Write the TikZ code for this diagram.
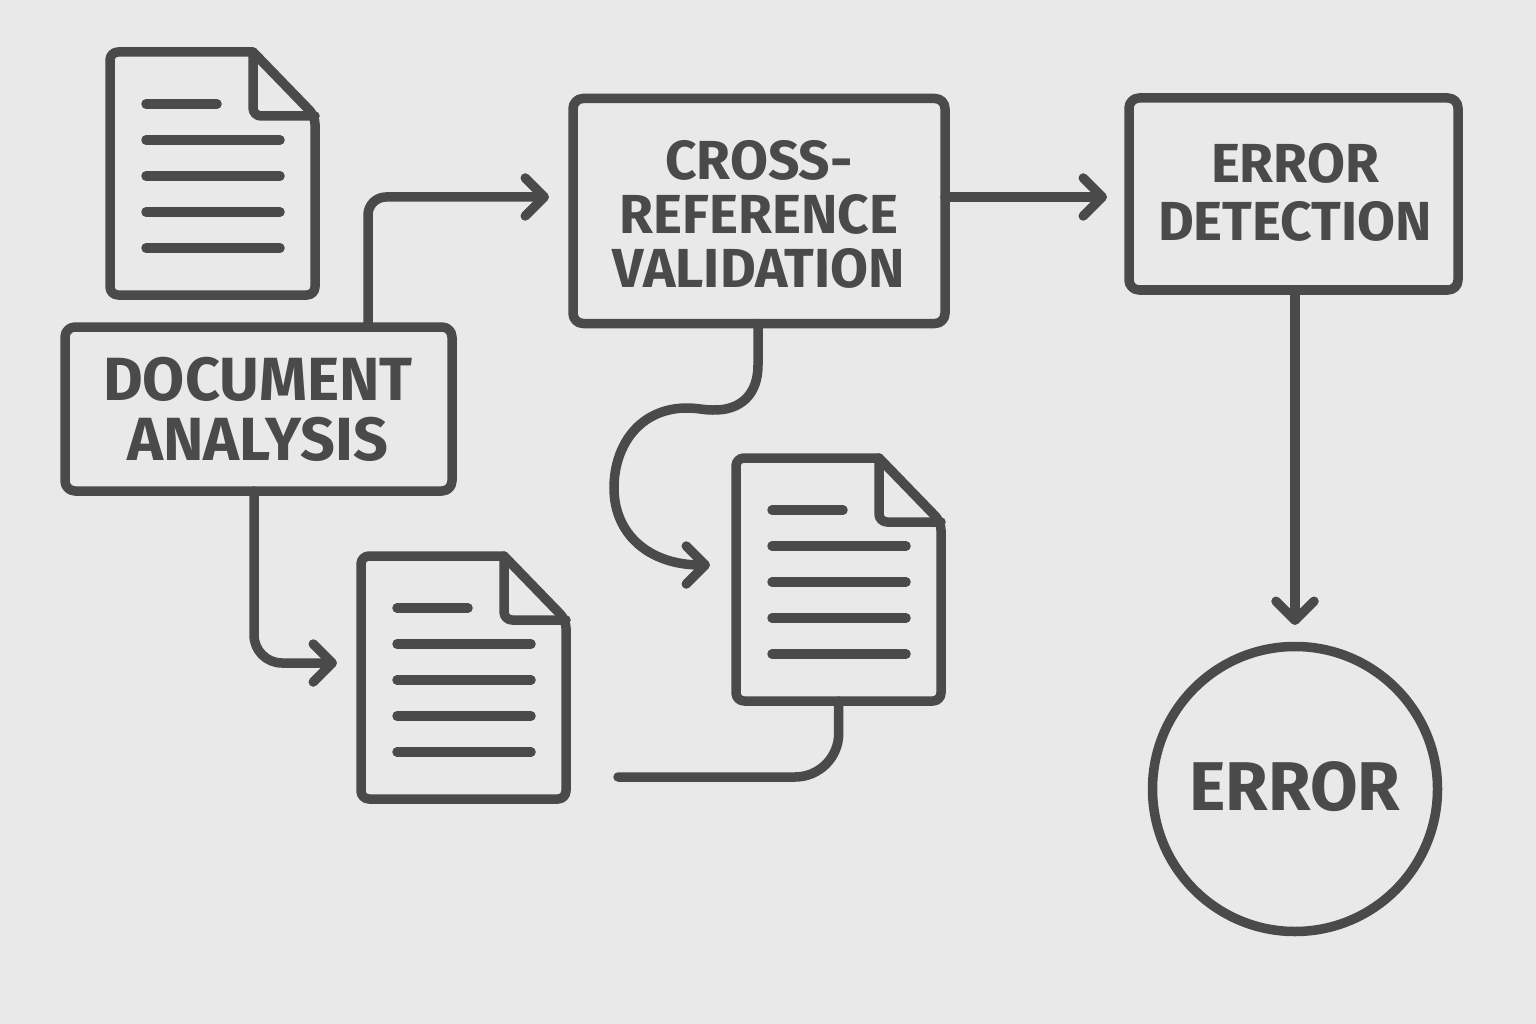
\documentclass[tikz,border=0pt]{standalone}
\usepackage{fontspec}
\setmainfont{Fira Sans}
\usetikzlibrary{arrows.meta}

\definecolor{inkgray}{HTML}{4A4A4A}
\definecolor{papergray}{HTML}{E9E9E9}

\tikzset{
    stepbox/.style={draw, rounded corners=10, outer sep=0, inner sep=0},
    steptext/.style={align=center, text=inkgray, inner sep=0},
    docnode/.style={minimum width=205, minimum height=243, outer sep=0, inner sep=0},
    chevron/.style={-{Straight Barb[length=19,width=38,round]}},
}

\begin{document}
\begin{tikzpicture}[x=1pt, y=-1pt, line width=9.5, color=inkgray, line cap=round, line join=round]
    \fill[papergray] (0,0) rectangle (1536,1024);

    % boxes
    \node[stepbox, minimum width=387, minimum height=164] (analysis) at (258.5,409) {};
    \node[steptext, font=\fontsize{61}{60}\selectfont\bfseries] (analysistext) at (258,409) {DOCUMENT\\ANALYSIS};
    \node[stepbox, minimum width=372, minimum height=225] (cross) at (759,211) {};
    \node[steptext, font=\fontsize{55}{54}\selectfont\bfseries] (crosstext) at (759,214) {CROSS-\\REFERENCE\\VALIDATION};
    \node[stepbox, minimum width=329, minimum height=192] (detect) at (1293.5,194) {};
    \node[steptext, font=\fontsize{55}{58}\selectfont\bfseries] (detecttext) at (1295,192) {ERROR\\DETECTION};
    \node[draw, circle, minimum size=285, outer sep=0, inner sep=0] (error) at (1295,789) {};
    \node[steptext, font=\fontsize{69}{70}\selectfont\bfseries] (errortext) at (1295,787) {ERROR};

    % documents
    \foreach \name/\x/\y in {docA/110/52, docB/361/556, docC/736/458} {
        \node[docnode] (\name) at (\x+102.5,\y+121.5) {};
        \begin{scope}[shift={(\x,\y)}]
            \draw[rounded corners=8] (143,0) -- (0,0) -- (0,243) -- (205,243) -- (205,64) [sharp corners] -- (143,0);
            \draw[rounded corners=8] (143,0) -- (143,64) -- (205,64);
            \draw (36,52) -- (107,52);
            \foreach \ly in {88,124,160,196} {
                \draw (36,\ly) -- (170,\ly);
            }
        \end{scope}
    }

    % connectors
    \coordinate (upturn) at (368,197);
    \coordinate (crossin) at (549,197);
    \draw[chevron, rounded corners=18] (analysis.north -| upturn) -- (upturn) -- (crossin);

    \coordinate (downturn) at (254,663);
    \coordinate (docBin) at (337,663);
    \draw[chevron, rounded corners=28] (analysis.south -| downturn) -- (downturn) -- (docBin);

    \coordinate (detectin) at (1107,197);
    \draw[chevron] (cross.east |- detectin) -- (detectin);

    \coordinate (errorin) at (1295,625);
    \draw[chevron] (detect.south -| errorin) -- (errorin);

    \coordinate (docCin) at (710,565);
    \draw[chevron] (cross.south -| 758,0) -- (758,365) .. controls (758,395) and (740,411) .. (712,410)
        .. controls (704,410) and (697,408) .. (687,408)
        .. controls (640,408) and (614,445) .. (614,488)
        .. controls (614,535) and (650,565) .. (docCin);

    \coordinate (looseend) at (618,777);
    \draw[rounded corners=44] (docC.south) -- (839,777) -- (looseend);
\end{tikzpicture}
\end{document}
